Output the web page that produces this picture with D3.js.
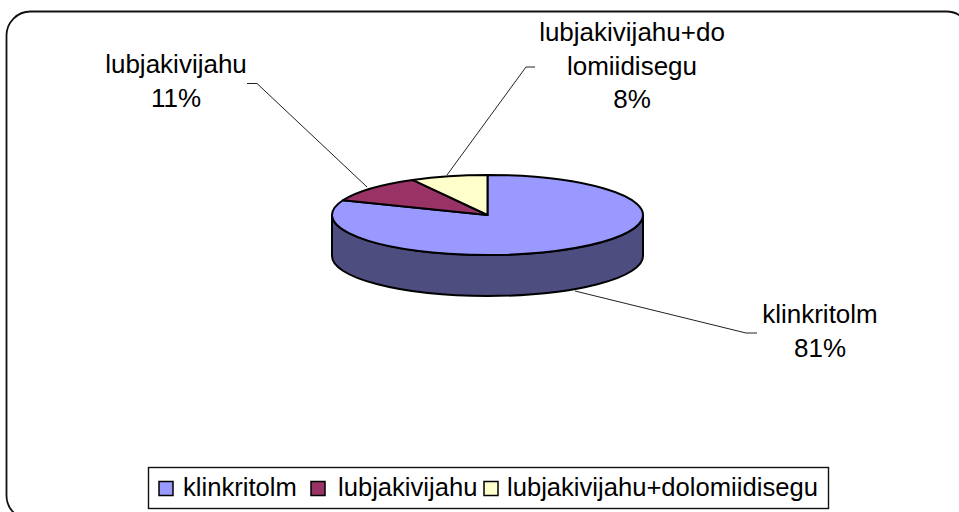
<!DOCTYPE html>
<html><head><meta charset="utf-8">
<script src="https://cdn.jsdelivr.net/npm/d3@7"></script>
<style>html,body{margin:0;padding:0;background:#fff;overflow:hidden}svg{display:block}text{font-family:"Liberation Sans",Arial,sans-serif;fill:#000}</style>
</head><body>
<script>
const categories = ["klinkritolm", "lubjakivijahu", "lubjakivijahu+dolomiidisegu"];
const values = [81, 11, 8];
const labelLines = [["klinkritolm", "81%"], ["lubjakivijahu", "11%"], ["lubjakivijahu+do", "lomiidisegu", "8%"]];
const colors = ["#9999FF", "#993366", "#FFFFCC"];
const sideColors = ["#4D4D80", "#4D1A33", "#808066"];

const W = 959, H = 512;
const svg = d3.select("body").append("svg").attr("width", W).attr("height", H);

svg.append("rect").attr("x", 6.5).attr("y", 11.5).attr("width", 964).attr("height", 508)
  .attr("rx", 24).attr("ry", 24).attr("fill", "#fff").attr("stroke", "#111").attr("stroke-width", 1.8);

const cx = 487.5, cy = 215, rx = 155.5, ry = 40, depth = 41;
const pie = d3.pie().sort(null).value(d => d)(values);
const px = a => cx + rx * Math.sin(a), py = a => cy - ry * Math.cos(a);

// side wall: only the front half of the ellipse is visible
const wall = svg.append("g");
pie.forEach((s, i) => {
  const a0 = Math.max(s.startAngle, Math.PI / 2), a1 = Math.min(s.endAngle, 3 * Math.PI / 2);
  if (a1 <= a0) return;
  const large = a1 - a0 > Math.PI ? 1 : 0;
  wall.append("path")
    .attr("d", `M${px(a0)},${py(a0)}L${px(a0)},${py(a0) + depth}` +
      `A${rx},${ry} 0 ${large} 1 ${px(a1)},${py(a1) + depth}` +
      `L${px(a1)},${py(a1)}A${rx},${ry} 0 ${large} 0 ${px(a0)},${py(a0)}Z`)
    .attr("fill", sideColors[i]).attr("stroke", "#000").attr("stroke-width", 2).attr("stroke-linejoin", "round");
});

// top face
const arc = d3.arc().innerRadius(0).outerRadius(rx);
svg.append("g").attr("transform", `translate(${cx},${cy}) scale(1,${ry / rx})`)
  .selectAll("path").data(pie).join("path")
  .attr("d", arc).attr("fill", (d, i) => colors[i])
  .attr("stroke", "#000").attr("stroke-width", 2).attr("vector-effect", "non-scaling-stroke")
  .attr("stroke-linejoin", "round");

// leader lines and data labels
const leaderPaths = [[[575, 291], [746, 333], [757, 333]], [[367, 187], [257, 83.5], [247, 83.5]], [[447, 175], [526, 67], [535, 67]]];
const line = d3.line();
svg.append("g").selectAll("path").data(leaderPaths).join("path")
  .attr("d", line).attr("fill", "none").attr("stroke", "#222").attr("stroke-width", 1);

const labelAnchor = [[820, 323], [176, 73], [632, 41]];
const lineGap = 33.5, labelSize = 26;
labelLines.forEach((ls, i) => {
  const t = svg.append("text").attr("text-anchor", "middle").attr("font-size", labelSize);
  ls.forEach((s, j) => t.append("tspan").attr("x", labelAnchor[i][0]).attr("y", labelAnchor[i][1] + j * lineGap).text(s));
});

// legend
svg.append("rect").attr("x", 148.5).attr("y", 467.5).attr("width", 680).attr("height", 41)
  .attr("fill", "#fff").attr("stroke", "#111").attr("stroke-width", 1.4);
const legX = [159, 311, 484];
const legText = [183, 338, 507];
categories.forEach((c, i) => {
  svg.append("rect").attr("x", legX[i]).attr("y", 481.5).attr("width", 14).attr("height", 14)
    .attr("fill", colors[i]).attr("stroke", "#000").attr("stroke-width", 1.5);
  svg.append("text").attr("x", legText[i]).attr("y", 496).attr("font-size", 25.6).text(c);
});
</script>
</body></html>
